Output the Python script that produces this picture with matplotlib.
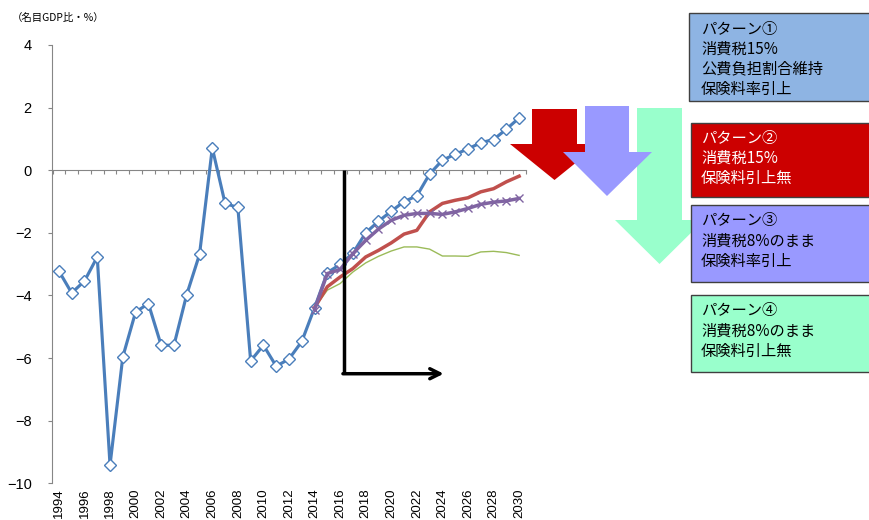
import numpy as np
import matplotlib
matplotlib.use("Agg")
import matplotlib.pyplot as plt
from matplotlib.patches import Polygon, Rectangle

plt.rcParams['font.family'] = ['Noto Sans CJK JP', 'DejaVu Sans']

years = np.arange(1994, 2031)
proj_years = np.arange(2014, 2031)

# pattern 1: actual + projection
pattern1 = [-3.22, -3.92, -3.54, -2.77, -9.42, -5.96, -4.53, -4.26, -5.59, -5.59,
            -3.97, -2.69, 0.71, -1.06, -1.19, -6.09, -5.59, -6.26, -6.03, -5.47,
            -4.39, -3.27, -3.01, -2.65, -2.00, -1.63, -1.31, -1.00, -0.82, -0.12,
            0.32, 0.51, 0.68, 0.88, 0.98, 1.31, 1.67]
pattern2 = [-4.39, -3.72, -3.41, -3.14, -2.77, -2.56, -2.32, -2.04, -1.92, -1.33,
            -1.06, -0.96, -0.88, -0.69, -0.59, -0.37, -0.19]
pattern3 = [-4.45, -3.30, -3.17, -2.66, -2.24, -1.88, -1.60, -1.44, -1.38, -1.38,
            -1.41, -1.33, -1.22, -1.09, -1.02, -0.98, -0.90]
pattern4 = [-4.39, -3.83, -3.62, -3.25, -2.96, -2.75, -2.58, -2.45, -2.45, -2.52,
            -2.74, -2.74, -2.75, -2.61, -2.59, -2.63, -2.72]

box_titles = ['パターン①', 'パターン②', 'パターン③', 'パターン④']
box_lines = [['消費税15%', '公費負担割合維持', '保険料率引上'],
             ['消費税15%', '保険料引上無'],
             ['消費税8%のまま', '保険料率引上'],
             ['消費税8%のまま', '保険料引上無']]
box_colors = ['#8EB4E3', '#CC0000', '#9999FF', '#99FFCC']
text_colors = ['black', 'white', 'black', 'black']

W, H = 870, 520
fig = plt.figure(figsize=(W / 100, H / 100), dpi=100)
ax = fig.add_axes([52.5 / W, 1 - 483.3 / H, 473 / W, 438.3 / H])


def px(x, y):
    # pixel position from top-left -> figure fraction
    return (x / W, 1 - y / H)


ax.plot(years, pattern1, color='#4A7EBB', lw=2.25, marker='D', ms=6.5,
        mfc='white', mec='#4A7EBB', mew=1, zorder=3)
ax.plot(proj_years, pattern4, color='#9BBB59', lw=1, zorder=4)
ax.plot(proj_years, pattern2, color='#C0504D', lw=2.5, zorder=5)
ax.plot(proj_years, pattern3, color='#8064A2', lw=2.5, marker='x', ms=6,
        mew=1, zorder=6)

# projection start marker
start_x, arrow_y, end_x = 2016.3, -6.5, 2024.1
ax.plot([start_x, start_x], [0, arrow_y], color='black', lw=2.5,
        solid_capstyle='butt', zorder=7)
ax.annotate('', xy=(end_x, arrow_y), xytext=(start_x - 0.08, arrow_y),
            arrowprops=dict(arrowstyle='->', lw=2.5, color='black',
                            mutation_scale=18, shrinkA=0, shrinkB=0), zorder=7)

num_font = ['Liberation Sans', 'DejaVu Sans']

ax.set_xlim(1993.5, 2030.5)
ax.set_ylim(-10, 4)
ax.set_yticks(np.arange(-10, 5, 2))
for s in ['top', 'right']:
    ax.spines[s].set_visible(False)
ax.spines['left'].set_color('#868686')
ax.spines['bottom'].set_color('#868686')
ax.spines['bottom'].set_position(('data', 0))
ax.set_xticks(np.arange(1993.5, 2031, 1))
ax.tick_params(axis='x', labelbottom=False, length=3, color='#868686')
ax.tick_params(axis='y', length=3, color='#868686', pad=12, labelsize=10.5)
for lab in ax.get_yticklabels():
    lab.set_family(num_font)

sec = ax.secondary_xaxis(0)
sec.set_xticks(years[::2])
sec.set_xticklabels([str(y) for y in years[::2]], rotation=90,
                    family=num_font, fontsize=9.5)
sec.spines['bottom'].set_visible(False)
sec.tick_params(length=0, pad=4)

fig.text(12 / W, 1 - 18 / H, '（名目GDP比・%）', fontsize=7.5, va='center', ha='left')

# big down arrows: shaft left, shaft right, top, head start, head left, head right, tip
arrows = [(532, 577, 109, 144, 510, 599, 180, '#CC0000'),
          (637, 682, 108, 220, 615, 704, 264, '#99FFCC'),
          (585, 629, 106, 152, 563, 652, 196, '#9999FF')]
for sl, sr, t, h, hl, hr, tip, c in arrows:
    cx = (sl + sr) / 2
    pts = [px(sl, t), px(sr, t), px(sr, h), px(hr, h), px(cx, tip),
           px(hl, h), px(sl, h)]
    fig.add_artist(Polygon(pts, closed=True, transform=fig.transFigure,
                           facecolor=c, edgecolor='none', zorder=2))

boxes = [(689.3, 13.3, 100.7), (691, 122.7, 196.7), (691, 205, 281.7), (691, 295, 371.7)]
for i, (x0, top, bot) in enumerate(boxes):
    fig.add_artist(Rectangle(px(x0, bot), (875 - x0) / W, (bot - top) / H,
                             transform=fig.transFigure, facecolor=box_colors[i],
                             edgecolor='#404040', lw=1, zorder=3))
    for j, line in enumerate([box_titles[i]] + box_lines[i]):
        fig.text(*px(701, top + 16 + 20 * j), line, fontsize=11, va='center',
                 ha='left', color=text_colors[i], zorder=4)

fig.savefig('out.png', dpi=100)
